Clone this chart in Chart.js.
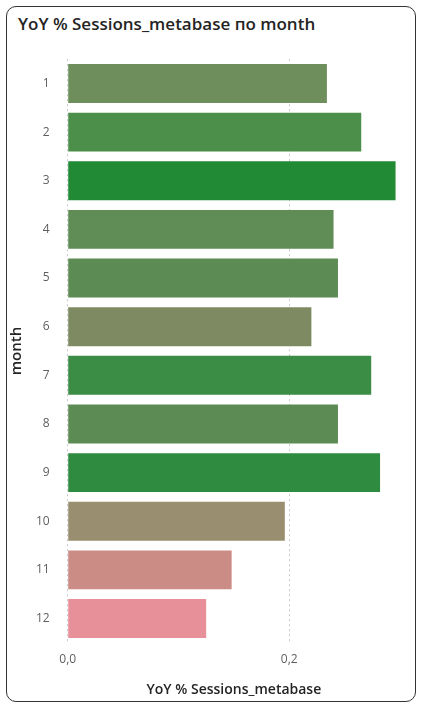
<!DOCTYPE html>
<html>
<head>
<meta charset="utf-8">
<script src="https://cdn.jsdelivr.net/npm/chart.js@4"></script>
<style>
  html, body { margin: 0; padding: 0; background: #fff; }
  .card {
    position: absolute; left: 6px; top: 6px; width: 410px; height: 696px;
    border: 1px solid #333; border-radius: 10px; box-sizing: border-box; background: #fff;
  }
  .title {
    position: absolute; left: 11px; top: 5px;
    font-family: "Open Sans", "Noto Sans", sans-serif; font-size: 17px; font-weight: 600; color: #252423;
  }
  .wrap { position: absolute; left: 8px; top: 42px; width: 404px; height: 660px; }
</style>
</head>
<body>
<div class="card"><div class="title">YoY % Sessions_metabase по month</div></div>
<div class="wrap"><canvas id="chart"></canvas></div>
<script>
// Data
const months = ['1', '2', '3', '4', '5', '6', '7', '8', '9', '10', '11', '12'];
const yoyValues = [0.234, 0.265, 0.296, 0.240, 0.244, 0.220, 0.274, 0.244, 0.282, 0.196, 0.148, 0.125];
const xTicks = [0, 0.2];

// Bar colours (red-to-green scale by value)
const barColors = ['#6e8f5c', '#4b8f4b', '#218a35', '#5f8d55', '#5c8c53', '#7d8a62',
                   '#3b8d45', '#5c8c53', '#2f8b3f', '#9a8e70', '#cc8c86', '#e8909a'];

const ctx = document.getElementById('chart').getContext('2d');
new Chart(ctx, {
    type: 'bar',
    data: {
        labels: months,
        datasets: [{ data: yoyValues, backgroundColor: barColors, categoryPercentage: 0.8, barPercentage: 1 }]
    },
    options: {
        indexAxis: 'y',
        responsive: true,
        maintainAspectRatio: false,
        animation: false,
        layout: { padding: { left: 0, right: 12, top: 10, bottom: 0 } },
        plugins: { legend: { display: false }, tooltip: { enabled: false } },
        scales: {
            x: {
                min: 0, max: 0.3,
                afterBuildTicks: axis => { axis.ticks = xTicks.map(v => ({ value: v })); },
                ticks: {
                    callback: v => v.toFixed(1).replace('.', ','),
                    color: '#605e5c', font: { family: 'Open Sans', size: 12 }, padding: 10
                },
                grid: { color: '#c8c8c8', drawTicks: false, lineWidth: 1 },
                border: { display: false, dash: [2, 3] },
                title: { display: true, text: 'YoY % Sessions_metabase', color: '#252423',
                         font: { family: 'Open Sans', size: 14, weight: '600' }, padding: { top: 4 } }
            },
            y: {
                ticks: { color: '#605e5c', font: { family: 'Open Sans', size: 12 }, padding: 10 },
                grid: { display: false },
                border: { display: false },
                title: { display: true, text: 'month', color: '#252423',
                         font: { family: 'Open Sans', size: 15, weight: '600' }, padding: { top: 0, bottom: 0 } }
            }
        }
    }
});
</script>
</body>
</html>
